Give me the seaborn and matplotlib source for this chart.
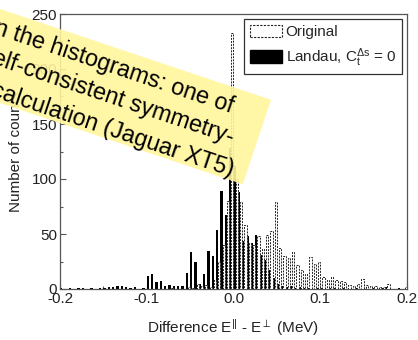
import numpy as np
import pandas as pd
import matplotlib
matplotlib.use("Agg")
import matplotlib.pyplot as plt
from matplotlib.patches import Patch, Polygon
import seaborn as sns

# ---------------- data ----------------
bin_width = 0.005
bin_range = (-0.2, 0.2)
bin_centers = np.round(np.arange(-0.1975, 0.2, bin_width), 5)

landau_counts = [
    1, 0, 1, 0, 1, 1, 0, 1, 0, 1,
    1, 2, 2, 3, 3, 2, 1, 2, 0, 1,
    12, 14, 6, 7, 3, 4, 3, 3, 3, 15,
    34, 25, 5, 14, 35, 30, 54, 89, 67, 128,
    112, 88, 44, 48, 42, 49, 31, 26, 17, 10,
    5, 3, 2, 3, 1, 2, 1, 1, 0, 1,
    1, 0, 1, 1, 0, 1, 0, 0, 1, 0,
    0, 0, 1, 0, 1, 2, 0, 0, 1, 0,
]
original_counts = [
    0, 0, 0, 0, 0, 0, 0, 0, 0, 0,
    0, 0, 0, 0, 0, 0, 0, 0, 0, 0,
    0, 0, 0, 0, 0, 1, 0, 0, 0, 2,
    1, 5, 3, 4, 2, 8, 25, 40, 80, 233,
    100, 79, 58, 42, 40, 48, 36, 49, 53, 79,
    37, 30, 28, 34, 22, 17, 14, 29, 23, 25,
    11, 8, 11, 8, 7, 6, 4, 3, 5, 9,
    4, 3, 3, 2, 2, 5, 0, 0, 0, 2,
]
series_names = ["Landau", "Original"]
legend_labels = ["Original", r"Landau, C$_\mathrm{t}^{\Delta \mathrm{s}}$ = 0"]
x_ticks = [-0.2, -0.1, 0.0, 0.1, 0.2]
x_tick_labels = ["-0.2", "-0.1", "0.0", "0.1", "0.2"]
y_ticks = [0, 50, 100, 150, 200, 250]
note_lines = [
    "Comparison between the histograms: one of",
    "the self-consistent symmetry-",
    "breaking calculation (Jaguar XT5)",
]

df = pd.DataFrame({
    "center": np.concatenate([bin_centers, bin_centers]),
    "count": np.concatenate([landau_counts, original_counts]).astype(float),
    "series": [series_names[0]] * len(bin_centers) + [series_names[1]] * len(bin_centers),
})

# ---------------- style ----------------
sns.set_theme(style="ticks")
plt.rcParams["font.family"] = ["Liberation Sans", "DejaVu Sans"]
plt.rcParams["mathtext.fontset"] = "custom"
plt.rcParams["mathtext.rm"] = "Liberation Sans"
plt.rcParams["mathtext.it"] = "Liberation Sans:italic"
plt.rcParams["mathtext.bf"] = "Liberation Sans:bold"

W, H = 418, 340
fig = plt.figure(figsize=(W / 100, H / 100), dpi=100)
ax = fig.add_axes([60 / W, 1 - 289 / H, 347 / W, 275 / H])

sns.histplot(
    data=df, x="center", weights="count", hue="series", hue_order=series_names,
    binwidth=bin_width, binrange=bin_range, multiple="dodge", shrink=1.0, ax=ax,
    palette={"Landau": "black", "Original": "white"}, alpha=1,
    edgecolor="black", linewidth=0.0, legend=False,
)

for patch in ax.patches:
    fc = patch.get_facecolor()
    if fc[0] > 0.5:  # Original
        patch.set_edgecolor("#222222")
        patch.set_linestyle((0, (2, 1.2)))
        patch.set_linewidth(0.7)
        patch.set_zorder(3)
    else:
        patch.set_zorder(2)

ax.set_xlim(-0.2, 0.2)
ax.set_ylim(0, 250)
ax.set_xticks(x_ticks)
ax.set_xticklabels(x_tick_labels)
ax.set_yticks(y_ticks)
ax.set_yticks(np.arange(25, 250, 50), minor=True)
ax.set_xticks([-0.15, -0.05, 0.05, 0.15], minor=True)
ax.tick_params(axis="both", which="both", direction="in", labelsize=11,
               colors="#555555", labelcolor="#222222")
ax.tick_params(which="major", length=4, width=0.8, pad=2)
ax.tick_params(which="minor", length=2.5, width=0.8)
for sp in ax.spines.values():
    sp.set_visible(True)
    sp.set_color("#555555")
    sp.set_linewidth(0.9)

ax.set_xlabel(r"Difference E$^{||}$ - E$^{\perp}$ (MeV)", fontsize=11, color="#222222", labelpad=8)
ax.set_ylabel("Number of counts", fontsize=11, color="#222222", labelpad=6)

handles = [
    Patch(facecolor="white", edgecolor="#222222", linestyle=(0, (2, 1.2)), linewidth=0.8),
    Patch(facecolor="black", edgecolor="black"),
]
leg = ax.legend(handles, legend_labels, loc="upper right", fontsize=11,
                frameon=True, fancybox=False, framealpha=1, edgecolor="#333333",
                handlelength=2.1, handleheight=0.9, borderpad=0.35,
                labelspacing=0.45, handletextpad=0.25, borderaxespad=0.35)
leg.get_frame().set_linewidth(0.9)

# ---------------- yellow note overlay ----------------
slope = 0.335
ang = np.degrees(np.arctan(slope))
def px(x, y):
    return (x / W, 1 - y / H)

poly = Polygon([px(-60, 9 - slope * 60), px(271, 9 + slope * 271),
                px(242.7, 103 + slope * 242.7), px(-60, 103 - slope * 60)],
               closed=True, transform=fig.transFigure, facecolor="#fff59d",
               edgecolor="none", alpha=0.9, zorder=10)
fig.patches.append(poly)

ends = [(231, 36 + slope * 231), (231, 67 + slope * 231), (231, 99 + slope * 231)]
for (ex, ey), line in zip(ends, note_lines):
    fig.text(*px(ex, ey), line, rotation=-ang, rotation_mode="anchor",
             ha="right", va="baseline", fontsize=16.8, color="black", zorder=11)

fig.savefig("out.png", dpi=100)
